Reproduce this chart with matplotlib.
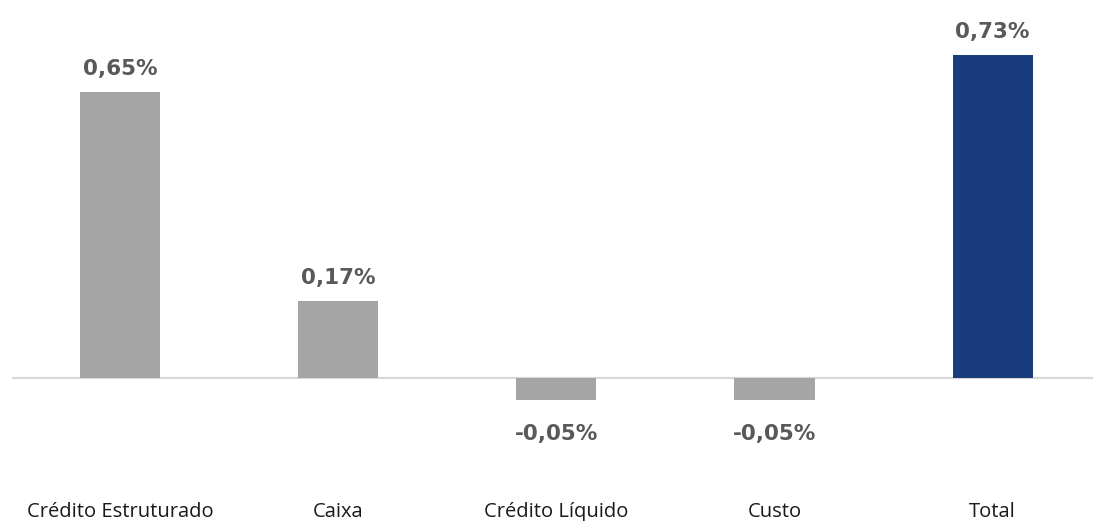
import matplotlib.pyplot as plt

categories = ['Crédito Estruturado', 'Caixa', 'Crédito Líquido', 'Custo', 'Total']
values = [0.65, 0.174, -0.049, -0.049, 0.733]
labels = ['0,65%', '0,17%', '-0,05%', '-0,05%', '0,73%']
colors = ['#A5A5A5', '#A5A5A5', '#A5A5A5', '#A5A5A5', '#183C7E']

fig = plt.figure(figsize=(10.93, 5.21), dpi=100)
ax = fig.add_axes([12 / 1093, 0, 1081 / 1093, 1])

x = list(range(len(categories)))
ax.bar(x, values, width=0.367, color=colors, zorder=2)
ax.axhline(0, color='#D9D9D9', lw=1.6, zorder=1)

for xi, v, lab in zip(x, values, labels):
    if v >= 0:
        ax.text(xi, v + 0.03, lab, ha='center', va='bottom', fontsize=15.5,
                fontweight='bold', color='#595959', family='DejaVu Sans')
    else:
        ax.text(xi, v - 0.056, lab, ha='center', va='top', fontsize=15.5,
                fontweight='bold', color='#595959', family='DejaVu Sans')
    ax.text(xi, -0.305, categories[xi], ha='center', va='center', fontsize=14.5,
            color='#1a1a1a', family='Open Sans')

ax.set_xlim(-0.495, 4.46)
ax.set_ylim(-0.325, 0.859)
ax.axis('off')

fig.savefig('out.png', dpi=100)
